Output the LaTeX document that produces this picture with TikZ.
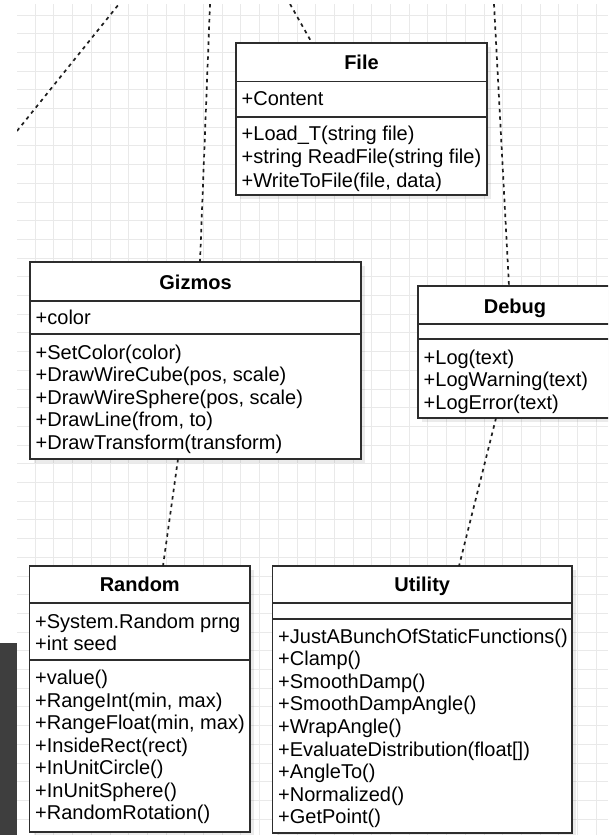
\documentclass[tikz,border=0pt]{standalone}
\usepackage{fontspec}
\setmainfont{Liberation Sans}
\usetikzlibrary{shadows}

\definecolor{gridgray}{RGB}{233,233,233}
\definecolor{boxline}{RGB}{45,45,45}
\definecolor{patchgray}{RGB}{62,62,62}
\definecolor{dashink}{RGB}{30,30,30}

\newcommand\umlfont{\fontsize{20pt}{22.5pt}\selectfont}
% one text row per list entry: name prefix, x, first baseline, row pitch, rows
\newcommand\memberrows[5]{%
  \foreach \row [count=\k from 0] in {#5} {
    \node[member] (#1\k) at (#2, {#3+#4*\k}) {\row};
  }}

\begin{document}
\begin{tikzpicture}[x=1pt, y=-1pt,
  gridline/.style={draw=gridgray, line width=0.9pt},
  classbox/.style={draw=boxline, line width=1.6pt, fill=white, anchor=north west,
    inner sep=0pt, outer sep=0pt,
    drop shadow={shadow xshift=4pt, shadow yshift=-4pt, fill=black, opacity=0.08}},
  divider/.style={draw=boxline, line width=1.6pt},
  member/.style={anchor=base west, inner sep=0pt, font=\umlfont},
  classname/.style={anchor=base, inner sep=0pt, font=\umlfont\bfseries},
  dep/.style={draw=dashink, line width=1.7pt, dash pattern=on 3.5pt off 4pt},
]
\useasboundingbox (0,0) rectangle (608,835);
\fill[white] (0,0) rectangle (608,835);

% dark strip in the lower left corner
\fill[patchgray] (0,643) rectangle (17,835);

\begin{scope}
  \clip (17,4) rectangle (608,835);
  % canvas grid
  \foreach \i in {0,...,32} {
    \draw[gridline] ({16.5+18.7*\i},4) -- ({16.5+18.7*\i},835);
  }
  \foreach \j in {0,...,44} {
    \draw[gridline] (17,{15+18.7*\j}) -- (608,{15+18.7*\j});
  }
\end{scope}

\begin{scope}
  \clip (0,0) rectangle (608,835);

  % class boxes
  \node[classbox, minimum width=251pt, minimum height=152pt] (file) at (236,43) {};
  \node[classbox, minimum width=331pt, minimum height=197pt] (gizmos) at (30,262) {};
  \node[classbox, minimum width=194pt, minimum height=132pt] (debug) at (418,286) {};
  \node[classbox, minimum width=220.5pt, minimum height=266pt] (random) at (29.5,566) {};
  \node[classbox, minimum width=299.5pt, minimum height=267pt] (utility) at (272.5,566) {};

  % dependency connectors, free ends at the canvas edge
  \coordinate (leftlow) at (17,131);
  \coordinate (lefthigh) at (119,4);
  \coordinate (gizmosup) at (210,4);
  \coordinate (fileup) at (290,4);
  \coordinate (debugup) at (494,4);
  \begin{scope}
    \clip (17,4) rectangle (608,835);
    \draw[dep] (leftlow) -- (lefthigh);
    \draw[dep] (gizmosup) -- ([xshift=4.5pt]gizmos.north);
    \draw[dep] (fileup) -- ([xshift=-49.5pt]file.north);
    \draw[dep] (debugup) -- ([xshift=91pt]debug.north west);
    \draw[dep] ([xshift=-17.5pt]gizmos.south) -- ([xshift=23.25pt]random.north);
    \draw[dep] ([xshift=78pt]debug.south west) -- ([xshift=36.75pt]utility.north);
  \end{scope}

  % compartment dividers
  \draw[divider] ([yshift=-38.5pt]file.north west) -- ([yshift=-38.5pt]file.north east);
  \draw[divider] ([yshift=-74pt]file.north west) -- ([yshift=-74pt]file.north east);
  \draw[divider] ([yshift=-39pt]gizmos.north west) -- ([yshift=-39pt]gizmos.north east);
  \draw[divider] ([yshift=-72pt]gizmos.north west) -- ([yshift=-72pt]gizmos.north east);
  \draw[divider] ([yshift=-38pt]debug.north west) -- ([yshift=-38pt]debug.north east);
  \draw[divider] ([yshift=-53pt]debug.north west) -- ([yshift=-53pt]debug.north east);
  \draw[divider] ([yshift=-37pt]random.north west) -- ([yshift=-37pt]random.north east);
  \draw[divider] ([yshift=-94pt]random.north west) -- ([yshift=-94pt]random.north east);
  \draw[divider] ([yshift=-37pt]utility.north west) -- ([yshift=-37pt]utility.north east);
  \draw[divider] ([yshift=-53pt]utility.north west) -- ([yshift=-53pt]utility.north east);

  % class names
  \node[classname] (file-name) at ([yshift=-26pt]file.north) {File};
  \node[classname] (gizmos-name) at ([yshift=-27pt]gizmos.north) {Gizmos};
  \node[classname] (debug-name) at ([yshift=-27pt]debug.north) {Debug};
  \node[classname] (random-name) at ([yshift=-25pt]random.north) {Random};
  \node[classname] (utility-name) at ([yshift=-25pt]utility.north) {Utility};

  % members
  \memberrows{file-a}{241.5}{105}{23.5}{+Content}
  \memberrows{file-m}{241.5}{140}{23.5}{{+Load\_T(string file)},{+string ReadFile(string file)},{+WriteToFile(file, data)}}

  \memberrows{gizmos-a}{35.5}{324}{22.5}{+color}
  \memberrows{gizmos-m}{35.5}{359}{22.5}{{+SetColor(color)},{+DrawWireCube(pos, scale)},{+DrawWireSphere(pos, scale)},{+DrawLine(from, to)},{+DrawTransform(transform)}}

  \memberrows{debug-m}{423.5}{364}{22.5}{{+Log(text)},{+LogWarning(text)},{+LogError(text)}}

  \memberrows{random-a}{35}{628.5}{22}{{+System.Random prng},{+int seed}}
  \memberrows{random-m}{35}{684.5}{22.5}{{+value()},{+RangeInt(min, max)},{+RangeFloat(min, max)},{+InsideRect(rect)},{+InUnitCircle()},{+InUnitSphere()},{+RandomRotation()}}

  \memberrows{utility-m}{278}{643}{22.6}{{+JustABunchOfStaticFunctions()},{+Clamp()},{+SmoothDamp()},{+SmoothDampAngle()},{+WrapAngle()},{+EvaluateDistribution(float[])},{+AngleTo()},{+Normalized()},{+GetPoint()}}
\end{scope}
\end{tikzpicture}
\end{document}
